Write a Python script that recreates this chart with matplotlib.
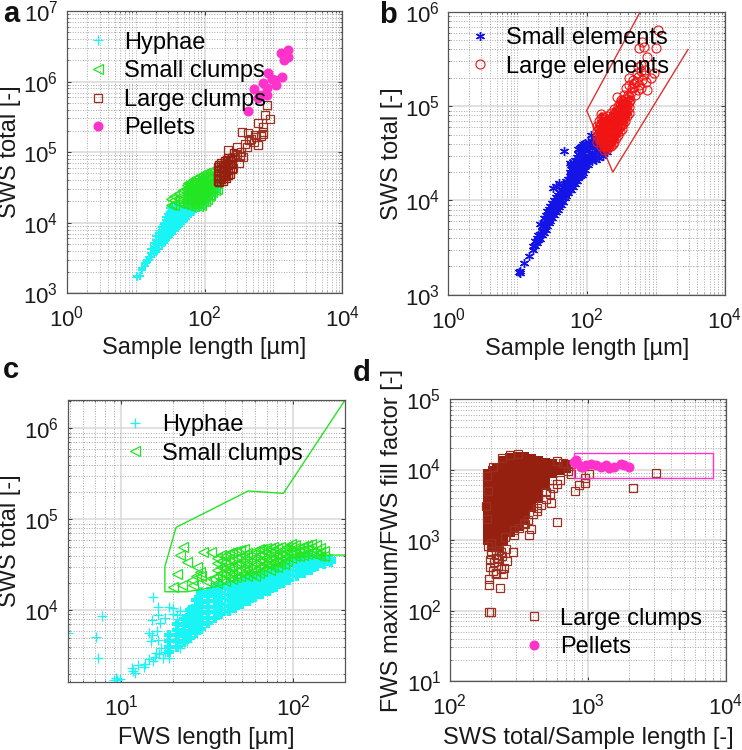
import numpy as np
from matplotlib import pyplot as plt
from matplotlib.ticker import LogLocator, FixedLocator, NullFormatter

plt.rcParams['font.family'] = ['Liberation Sans', 'DejaVu Sans']
plt.rcParams['mathtext.fontset'] = 'custom'
plt.rcParams['mathtext.rm'] = 'Liberation Sans'
plt.rcParams['mathtext.default'] = 'regular'

CYAN = '#19f5f5'
GREEN = '#22e622'
BROWN = '#962010'
PINK = '#ff33cc'
BLUE = '#1414e6'
RED = '#f01414'

# ---- panel a, values (x, then y values in that column)
aHyphaeX = [10.5, 11.5, 12.5, 13.5, 14.5, 15.5, 17, 18.5, 20, 22, 24, 26, 28, 30, 32, 34, 37, 40, 43, 46, 50, 54, 58, 63, 68, 74,
            80, 88, 96, 110, 125, 145, 165]
aHyphaeY = [[1750, 1720], [1780], [2150, 2300], [2450, 2700], [2750, 3000], [2950, 3300], [3300, 3700, 4200],
            [3600, 4000, 4500, 5200], [3900, 4400, 5000, 5700, 6500], [4300, 4900, 5500, 6300, 7200],
            [4800, 5400, 6100, 7000, 8000, 8700], [5200, 5900, 6700, 7600, 8700, 10000],
            [5700, 6400, 7300, 8300, 9500, 10800, 12000], [6100, 6900, 7900, 9000, 10200, 11600, 13200],
            [6600, 7500, 8500, 9700, 11000, 12500, 14200, 16000], [7000, 8000, 9100, 10300, 11800, 13400, 15200, 17000],
            [7700, 8700, 9900, 11300, 12800, 14600, 16600], [8300, 9400, 10700, 12200, 13900, 15800, 17500],
            [9000, 10200, 11600, 13200, 15000, 17000], [9700, 11000, 12500, 14200, 16200], [10500, 12000, 13600, 15500, 17500],
            [11400, 13000, 14800, 16800], [12300, 14000, 16000, 18000], [13300, 15200, 17300], [14400, 16400, 18500],
            [15500, 17700], [16000, 18000], [17000, 19000], [18500, 21000], [21000, 24000], [24000, 27000], [27000, 31000],
            [31000, 34000]]
aHyphaeOutX = [24, 22, 26]
aHyphaeOutY = [8700, 7800, 9500]
aSmallX = [33, 36, 42, 48, 55, 62, 70, 80, 90, 100, 115, 130, 150, 58, 66, 75, 85, 95, 107, 122, 140]
aSmallY = [[18000, 22000], [18000, 21000, 24000], [19000, 22000, 26000], [18500, 21500, 25000, 29000],
           [18000, 21000, 25000, 29000, 34000], [17500, 21000, 25000, 29000, 34000, 38000],
           [17500, 21000, 25000, 29000, 34000, 38000, 41000], [17500, 21000, 25000, 29000, 34000, 39000, 45000],
           [18000, 21000, 25000, 29000, 34000, 40000, 48000], [20000, 24000, 29000, 34000, 41000, 50000],
           [24000, 29000, 34000, 41000, 52000], [27000, 32000, 38000, 46000, 55000], [30000, 36000, 45000],
           [19000, 23000, 27000, 31000, 36000], [19000, 23000, 27000, 31000, 36000], [19000, 23000, 27000, 31000, 36000, 43000],
           [19000, 23000, 27000, 31000, 36000, 42000], [20000, 23000, 27000, 31000, 37000, 44000],
           [22000, 26000, 31000, 37000, 46000], [25000, 30000, 35000, 42000, 50000], [29000, 34000, 40000, 50000]]
aLargeCoreX = [150, 158, 170, 180, 190, 202, 215, 228, 240, 258]
aLargeCoreY = [[38000, 45000, 53000, 63000], [36000, 42000, 50000, 58000, 68000], [36000, 42000, 50000, 60000, 72000],
               [40000, 50000, 58000, 68000], [38000, 46000, 55000, 65000, 78000], [44000, 54000, 66000, 80000],
               [42000, 50000, 60000, 72000, 85000], [46000, 54000, 64000, 78000], [48000, 58000, 70000, 85000],
               [55000, 66000, 80000, 100000]]
aLargeX = [795, 890, 755, 604, 717, 717, 353, 433, 604, 543, 410, 220, 293, 330, 235, 270, 300, 340, 390, 480, 520, 560, 650, 700, 320, 360, 440, 260]
aLargeY = [466000, 292000, 335000, 257000, 230000, 195000, 195000, 185000, 126000, 175000, 120000, 107000, 120000, 87000,
           78000, 85000, 95000, 100000, 130000, 155000, 140000, 165000, 170000, 180000, 70000, 85000, 150000, 60000]
aPelletX = [433, 523, 604, 795, 715, 840, 1050, 1090, 1320, 940, 670, 800, 1420, 1280, 1650, 1650, 1480]
aPelletY = [383000, 777000, 580000, 803000, 945000, 1310000, 1050000, 890000, 1150000, 1100000, 647000, 647000,
            2020000, 2550000, 2800000, 2260000, 2500000]

# ---- panel b
bPolyX = [593, 100, 239, 2920]
bPolyY = [1000000, 90000, 20000, 400000]
bSmallX = [10.5, 11, 12.5, 14.8, 17, 18, 19, 20, 21, 22.5, 24, 25.5, 27, 28.5, 30, 32, 34, 36, 38, 40.5, 43, 45.5, 48, 51, 54, 57,
           60, 64, 68, 72, 76, 80, 85, 90, 95, 105, 120, 135, 150, 170, 200]
bSmallY = [[1750], [1700, 1800], [2180], [2590], [3000, 3300], [3300, 3700], [3500, 4000], [3800, 4300], [3900, 4400, 5600],
           [4300, 4800, 5400], [4500, 5100, 5800, 6500], [4900, 5500, 6200, 7000], [5300, 6000, 6800, 7700],
           [5700, 6400, 7300, 8200], [6000, 6800, 7700, 8700], [6500, 7300, 8300, 9400], [7000, 7900, 9000, 10200],
           [7500, 8500, 9600, 10900], [8000, 9000, 10200, 11500], [8600, 9700, 10900, 12300], [9000, 10200, 11500, 13000],
           [9700, 11000, 12400, 14000], [10500, 11700, 13200, 15000], [11200, 12500, 14000, 16000],
           [12000, 13500, 15000, 17000], [12800, 14300, 16000, 18000, 20000], [13000, 15000, 17000, 19000, 21500, 24000],
           [14000, 16000, 18000, 20000, 22500, 25500], [15000, 17000, 19000, 21500, 24000, 27000],
           [16000, 18000, 20500, 23000, 26000, 29000], [17500, 19500, 22000, 25000, 28000, 31000, 35000],
           [18000, 20500, 23000, 26000, 29000, 32500, 36000], [18500, 21000, 24000, 27000, 30000, 34000, 38000],
           [19500, 22500, 25500, 28500, 32000, 36000, 39500], [21000, 24000, 27000, 30000, 34000, 38000, 41000],
           [24000, 27000, 30000, 34000, 38000, 42000], [26000, 29000, 33000, 37000, 41000, 43000],
           [27000, 30000, 34000, 38000, 42000], [28000, 31000, 35000, 39000], [30000, 34000, 38000], [33000, 36000]]
bSmallOutX = [36, 47, 115, 33, 82, 58, 40]
bSmallOutY = [14200, 33700, 49500, 13500, 37000, 25000, 15500]
bLargeCoreX = [140, 160, 180, 200, 225, 250, 280, 320, 360, 410, 150, 170, 190, 212, 238, 265, 300, 340, 385]
bLargeCoreY = [[42000, 48000, 55000, 62000], [38000, 44000, 50000, 57000, 65000, 75000, 82000],
               [34000, 38000, 43000, 49000, 56000, 64000, 73000], [35000, 40000, 46000, 52000, 60000, 68000, 78000],
               [38000, 43000, 49000, 56000, 64000, 73000, 84000], [42000, 48000, 55000, 63000, 72000, 82000, 94000],
               [50000, 57000, 65000, 75000, 86000, 100000], [58000, 66000, 76000, 88000, 100000, 115000],
               [70000, 80000, 92000, 105000, 120000], [85000, 97000, 110000, 125000],
               [46000, 52000, 60000, 70000], [42000, 47000, 53000, 61000, 70000], [37000, 41000, 46000, 53000, 60000, 69000],
               [38000, 43000, 49000, 56000, 64000, 72000], [40000, 46000, 52000, 60000, 68000, 78000],
               [46000, 52000, 60000, 68000, 78000, 88000], [54000, 61000, 70000, 80000, 92000, 108000],
               [64000, 72000, 82000, 95000, 110000], [78000, 88000, 100000, 115000]]
bLargeX = [1060, 640, 670, 575, 1000, 755, 606, 940, 845, 410, 368, 755, 277, 170, 430, 485, 545, 680, 460, 605, 390,
           310, 545, 520, 580, 640, 720, 500, 440, 350, 300, 470, 620, 560, 530, 700, 480, 410]
bLargeY = [650000, 484000, 430000, 410000, 410000, 335000, 275000, 228000, 198000, 198000, 158000, 150000, 125000, 77000,
           116000, 175000, 205000, 213000, 155000, 155000, 131000, 116000, 262000, 180000, 170000, 190000, 180000, 130000,
           140000, 130000, 100000, 190000, 235000, 150000, 225000, 240000, 160000, 170000]

# ---- panel c
cPolyX = [200, 87.5, 54.7, 20.8, 17.9, 17.9, 24, 36, 100, 163, 200]
cPolyY = [2050000, 193000, 205000, 81700, 30200, 16000, 16000, 18200, 38000, 40500, 40500]
cHyphaeX = [19, 21, 23, 25, 27, 29, 32, 35, 38, 42, 46, 50, 55, 60, 66, 72, 79, 87, 95, 105, 115, 126, 138, 150, 165]
cHyphaeY = [[3500, 4000, 4600, 5300], [4000, 4600, 5300, 6100, 7000], [4500, 5200, 6000, 6900, 8000],
            [5000, 5800, 6700, 7700, 8900, 10200], [5600, 6400, 7400, 8500, 9800, 11300, 13000],
            [6200, 7100, 8200, 9400, 10800, 12400, 14300, 16000], [7200, 8300, 9500, 11000, 12600, 14500, 16000],
            [8300, 9500, 11000, 12600, 14500, 16500, 18000], [9000, 10300, 11800, 13500, 15500, 17800, 19500],
            [9800, 11200, 12900, 14800, 17000, 19500], [10600, 12200, 14000, 16000, 18400, 20500],
            [11800, 13500, 15500, 17800, 20000, 21500], [12800, 14600, 16800, 19200, 21500, 23000],
            [14000, 16000, 18300, 21000, 23500], [15200, 17400, 20000, 22500, 25000], [16500, 18900, 21600, 24500, 26500],
            [18000, 20600, 23500, 26500, 28500], [19800, 22600, 25800, 29000, 32000], [21500, 24600, 28000, 31500, 35000],
            [24000, 27400, 31000, 35000, 38000], [26000, 29500, 33500, 37500, 39000], [28000, 31500, 35500, 39000],
            [30500, 34000, 38000, 40000], [32500, 36000, 39000], [34000, 37000]]
cHyphaeOutX = [4.9, 7.1, 7.7, 7.3, 9.4, 9, 9.8, 9.3, 11.7, 11.5, 12, 13.7, 13.5, 14.5, 15.7, 15.2, 15.8, 15.2, 16.4, 18.8, 16.4,
               15, 14.4, 16.8, 21, 20, 16.4, 18, 24, 17, 15, 14.8, 16, 18, 20, 22, 12.5, 16.5, 17.5, 19, 22, 24]
cHyphaeOutY = [5600, 5100, 8750, 2970, 1720, 1700, 1750, 1800, 2150, 2300, 2050, 2550, 2400, 2900, 3100, 14100, 3400, 2800, 11000,
               11000, 8900, 7800, 5700, 7200, 8900, 10500, 4700, 3500, 4500, 3900, 5300, 4600, 6000, 8200, 9000, 9800, 2500,
               3300, 3000, 3000, 3900, 9800]
cSmallX = [19.9, 22.4, 22.7, 22, 24, 21, 27.4, 28.6, 25.6, 30, 33, 27, 29, 26, 31, 34]
cSmallY = [18200, 19000, 50000, 41000, 33700, 25300, 30000, 26500, 21500, 44000, 44000, 24000, 24000, 19000, 21000, 22000]
cSmallColX = [36, 38, 40, 42, 44, 46.5, 49, 51.5, 54, 57, 60, 63, 66, 69.5, 73, 76.5, 80, 84, 88, 92, 97, 102, 108, 114, 120, 127, 135, 142, 150]
cSmallColY = [[20000, 24000, 28000, 33000, 38000], [22000, 26000, 30000, 35000, 41000], [21000, 25000, 29000, 34000, 40000],
              [23000, 27000, 31000, 37000, 43000], [22000, 26000, 30000, 36000, 44000], [23000, 27000, 32000, 38000, 45000],
              [24000, 28000, 33000, 39000, 46000], [25000, 30000, 35000, 41000, 47000], [24000, 28000, 33000, 39000, 43000],
              [26000, 30000, 35000, 41000], [24000, 28000, 33000, 39000, 45000], [26000, 30000, 35000, 41000, 47000],
              [27000, 31000, 36000, 42000, 47000], [29000, 33000, 38000, 44000, 48000], [28000, 32000, 37000, 43000, 49000],
              [30000, 34000, 39000, 45000, 50000], [30000, 35000, 41000, 48000], [32000, 36000, 40000, 45000, 50000],
              [32000, 37000, 42000, 47000], [35000, 40000, 45000, 50000], [38000, 44000, 50000, 54000], [40000, 44000, 48000, 52000],
              [40000, 45000, 49000], [41000, 46000, 51000], [42000, 47000, 52000], [43000, 48000, 54000], [41000, 46000, 52000],
              [40000, 44000, 49000], [40000, 45000]]

# ---- panel d
dRectX = [800, 8000, 8000, 800, 800]
dRectY = [7500, 7500, 17000, 17000, 7500]
dCoreX = [190, 205, 220, 245, 275, 310, 345, 390, 435, 490, 550, 620, 700]
dCoreY = [[1000, 1200, 1500, 1800, 2300, 2900, 3600, 4500, 5600, 7000, 8500],
          [800, 900, 1100, 1400, 1800, 2300, 2900, 3600, 4500, 5600, 7000, 8500, 9500],
          [800, 900, 1100, 1400, 1800, 2300, 2900, 3600, 4500, 5600, 7000, 9000, 10500],
          [1000, 1200, 1400, 1800, 2300, 2900, 3600, 4500, 5600, 7000, 9000, 11000, 13000],
          [1300, 1500, 1900, 2300, 2900, 3600, 4500, 5600, 7000, 9000, 11000, 13500, 14500],
          [1600, 1900, 2300, 2900, 3600, 4500, 5600, 7000, 9000, 11000, 13500, 15000],
          [2000, 2400, 2900, 3600, 4500, 5600, 7000, 9000, 11000, 13500, 15000],
          [2900, 3600, 4500, 5600, 7000, 9000, 11000, 13500, 14000],
          [3900, 4700, 5600, 7000, 9000, 11000, 13000], [6000, 7000, 9000, 11000, 12500],
          [9000, 10500, 12000], [10000, 11000], [10500, 11500]]
dLargeX = [193, 199, 193, 232, 193, 216, 242, 248, 262, 285, 220, 229, 200, 376, 387, 343, 293, 596, 425, 540, 496, 810, 630,
           866, 955, 950, 1020, 2130, 3100, 185, 183, 188, 186, 760, 720, 660, 600, 760,
           195, 205, 215, 225, 235, 195, 210, 225, 240, 200, 215, 235, 255, 190, 200, 320, 350, 370, 400, 430, 460, 500, 530,
           560, 600, 250, 290, 205, 240, 275, 310]
dLargeY = [94, 94, 229, 206, 280, 330, 330, 398, 500, 685, 550, 720, 700, 1180, 1420, 1760, 1180, 1780, 2800, 3400, 4800, 4900,
           7000, 6100, 6400, 7500, 8600, 5400, 8900, 2000, 3000, 5000, 8000, 8500, 9500, 12500, 13000, 12000,
           420, 360, 340, 430, 390, 520, 480, 530, 600, 640, 620, 680, 750, 820, 900, 1500, 1700, 1900, 2300, 2600, 3100, 3800,
           4500, 5400, 6300, 1100, 1400, 11000, 14500, 15800, 16500]
dPelletX = [820, 840, 890, 970, 1060, 1140, 1240, 1350, 1430, 1550, 1740, 1830, 1990, 800, 930]
dPelletY = [13600, 12300, 11000, 11400, 11800, 11400, 11000, 11600, 10500, 10800, 11800, 11400, 11000, 12800, 10800]


def columnsToPoints(colX, colY):
    # every x column has its own list of y values
    x = []
    y = []
    for i in range(len(colX)):
        for val in colY[i]:
            x.append(colX[i])
            y.append(val)
    return x, y


def styleAxes(ax, xlim, ylim, xMajor, yMajor, xlabel, ylabel, ylabelRight, xlabelTop):
    ax.set_xscale('log')
    ax.set_yscale('log')
    ax.set_xlim(xlim)
    ax.set_ylim(ylim)
    ax.xaxis.set_major_locator(FixedLocator([10.0**n for n in xMajor]))
    ax.yaxis.set_major_locator(FixedLocator([10.0**n for n in yMajor]))
    ax.set_xticklabels(['$10^{%d}$' % n for n in xMajor])
    ax.set_yticklabels(['$10^{%d}$' % n for n in yMajor])
    for axis in [ax.xaxis, ax.yaxis]:
        axis.set_minor_locator(LogLocator(base=10, subs=np.arange(1, 10), numticks=30))
        axis.set_minor_formatter(NullFormatter())
    ax.grid(True, which='minor', color='#a8a8a8', linestyle=':', linewidth=0.7)
    ax.grid(True, which='major', color='#d8d8d8', linestyle='-', linewidth=1.1)
    ax.set_axisbelow(True)
    ax.tick_params(which='major', direction='in', length=3, width=0.6, top=True, right=True,
                   labelsize=16, colors='#1a1a1a', pad=6)
    ax.tick_params(axis='x', which='major', pad=9)
    ax.tick_params(which='minor', direction='in', length=1.5, width=0.4, top=True, right=True)
    ax.set_xlabel(xlabel, fontsize=17, color='#1a1a1a')
    ax.set_ylabel(ylabel, fontsize=17, color='#1a1a1a')
    # label places are given in pixels from the axes edge
    box = ax.get_position()
    ax.yaxis.set_label_coords((ylabelRight - box.x0 * W) / (box.width * W), 0.5)
    ax.xaxis.set_label_coords(0.5, ((1 - box.y0) * H - xlabelTop) / (box.height * H))
    for side in ax.spines.values():
        side.set_color('#555555')
        side.set_linewidth(0.9)


def addLegend(ax, handles, labels, anchor):
    ax.legend(handles, labels, loc='upper left', bbox_to_anchor=anchor, frameon=False, fontsize=17,
              labelspacing=0.28, handlelength=1, handletextpad=0.62, borderpad=0, borderaxespad=0)


W = 742.0
H = 750.0
fig = plt.figure(figsize=(7.42, 7.5), dpi=100)
axA = fig.add_axes([66.7 / W, 1 - 293.3 / H, 275.6 / W, 282.3 / H])
axB = fig.add_axes([448.3 / W, 1 - 294.7 / H, 276.7 / W, 282.7 / H])
axC = fig.add_axes([67.7 / W, 1 - 682.3 / H, 277.0 / W, 282.3 / H])
axD = fig.add_axes([449.7 / W, 1 - 681.0 / H, 276.3 / W, 282.0 / H])

plusStyle = dict(linestyle='none', marker='+', color=CYAN, markersize=7, markeredgewidth=0.9)
plusSolid = dict(linestyle='none', marker='P', color=CYAN, markersize=7.5, markeredgewidth=0)
triStyle = dict(linestyle='none', marker='<', color=GREEN, mfc='none', markersize=6.5, markeredgewidth=0.9)
squareStyle = dict(linestyle='none', marker='s', color='#9c3020', mfc='none', markersize=5.2, markeredgewidth=0.9)
pelletStyle = dict(linestyle='none', marker='o', color=PINK, markersize=6.2)
starStyle = dict(linestyle='none', marker=(6, 2, 0), color=BLUE, markersize=6.5, markeredgewidth=1.0)
circleStyle = dict(linestyle='none', marker='o', color=RED, mfc='none', markersize=6.5, markeredgewidth=0.8)

# a
x, y = columnsToPoints(aHyphaeX, aHyphaeY)
axA.plot(x, y, linestyle='none', marker='P', color=CYAN, markersize=5.5, markeredgewidth=0)
h1, = axA.plot(aHyphaeOutX, aHyphaeOutY, **plusStyle)
x, y = columnsToPoints(aSmallX, aSmallY)
h2, = axA.plot(x, y, **triStyle)
h3, = axA.plot(aLargeX, aLargeY, **squareStyle)
x, y = columnsToPoints(aLargeCoreX, aLargeCoreY)
axA.plot(x, y, linestyle='none', marker='s', color=BROWN, mfc='none', markersize=4.6, markeredgewidth=1.0)
h4, = axA.plot(aPelletX, aPelletY, **pelletStyle)
styleAxes(axA, (1, 1e4), (1e3, 1e7), [0, 2, 4], [3, 4, 5, 6, 7], 'Sample length [µm]', 'SWS total [-]', 21, 337)
addLegend(axA, [h1, h2, h3, h4], ['Hyphae', 'Small clumps', 'Large clumps', 'Pellets'], (0.07, 0.927))

# b
x, y = columnsToPoints(bSmallX, bSmallY)
h1, = axB.plot(x, y, **starStyle)
axB.plot(bSmallOutX, bSmallOutY, **starStyle)
axB.plot(bPolyX, bPolyY, color='#e03030', linewidth=1.0)
h2, = axB.plot(bLargeX, bLargeY, **circleStyle)
x, y = columnsToPoints(bLargeCoreX, bLargeCoreY)
axB.plot(x, y, **circleStyle)
axB.plot(x, y, linestyle='none', marker='o', color=RED, markersize=2.2)
styleAxes(axB, (1, 1e4), (1e3, 1e6), [0, 2, 4], [3, 4, 5, 6], 'Sample length [µm]', 'SWS total [-]', 403, 338)
addLegend(axB, [h1, h2], ['Small elements', 'Large elements'], (0.071, 0.947))

# c
x, y = columnsToPoints(cHyphaeX, cHyphaeY)
axC.plot(x, y, **plusSolid)
h1, = axC.plot(cHyphaeOutX, cHyphaeOutY, **plusStyle)
axC.plot(cPolyX, cPolyY, color=GREEN, linewidth=1.0)
h2, = axC.plot(cSmallX, cSmallY, **triStyle)
x, y = columnsToPoints(cSmallColX, cSmallColY)
axC.plot(x, y, **triStyle)
styleAxes(axC, (4.87, 199), (1618, 2.05e6), [1, 2], [4, 5, 6], 'FWS length [µm]', 'SWS total [-]', 21, 727)
addLegend(axC, [h1, h2], ['Hyphae', 'Small clumps'], (0.202, 0.95))

# d
x, y = columnsToPoints(dCoreX, dCoreY)
axD.plot(x, y, linestyle='none', marker='s', color=BROWN, markersize=6.5, markeredgewidth=0)
h1, = axD.plot(dLargeX, dLargeY, **squareStyle)
axD.plot(dRectX, dRectY, color=PINK, linewidth=1.0)
h2, = axD.plot(dPelletX, dPelletY, **pelletStyle)
styleAxes(axD, (100, 1e4), (10, 1e5), [2, 3, 4], [1, 2, 3, 4, 5], 'SWS total/Sample length [-]',
          'FWS maximum/FWS fill factor [-]', 403, 727)
addLegend(axD, [h1, h2], ['Large clumps', 'Pellets'], (0.262, 0.26))

for letter, px, py in [('a', 3, 22), ('b', 379, 23), ('c', 3, 378), ('d', 353, 381)]:
    fig.text(px / W, 1 - py / H, letter, fontsize=21, fontweight='bold', color='#111111', va='baseline')

fig.savefig('out.png', dpi=100)
